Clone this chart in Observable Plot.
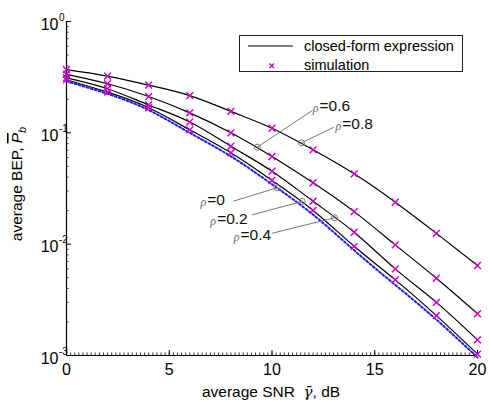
<!DOCTYPE html>
<html>
<head>
<meta charset="utf-8">
<script src="https://cdn.jsdelivr.net/npm/d3@7"></script>
<script src="https://cdn.jsdelivr.net/npm/@observablehq/plot@0.6"></script>
<style>
  html, body { margin: 0; padding: 0; background: #fff; }
  #chart { width: 489px; height: 403px; }
  svg { font-family: "Liberation Sans", Arial, sans-serif; }
</style>
</head>
<body>
<div id="chart"></div>
<script>
// ---- data ----
const snr = [0, 2, 4, 6, 8, 10, 12, 14, 16, 18, 20];
const rhoValues = [0, 0.2, 0.4, 0.6, 0.8];
const berRho00 = [0.290, 0.224, 0.160, 0.100, 0.0615, 0.0345, 0.0184, 0.0088, 0.0043, 0.0021, 0.00096];
const berRho02 = [0.300, 0.232, 0.168, 0.1064, 0.0661, 0.0373, 0.0201, 0.00957, 0.00478, 0.00228, 0.00103];
const berRho04 = [0.312, 0.249, 0.178, 0.125, 0.0758, 0.0452, 0.0243, 0.0128, 0.0060, 0.0030, 0.00138];
const berRho06 = [0.335, 0.276, 0.212, 0.151, 0.100, 0.0613, 0.0356, 0.0196, 0.00986, 0.00494, 0.00237];
const berRho08 = [0.370, 0.323, 0.268, 0.216, 0.156, 0.110, 0.0704, 0.0428, 0.0238, 0.0125, 0.00643];

// annotation anchors (data coordinates)
const annRho      = ["0", "0.2", "0.4", "0.6", "0.8"];
const annCircSnr  = [10.25, 11.47, 13.04, 9.28, 11.44];
const annCircBer  = [0.0321, 0.0242, 0.01725, 0.0743, 0.0813];
const annLineSnr  = [8.11, 9.04, 10.01, 11.96, 13.01];
const annLineBer  = [0.0243, 0.01835, 0.01254, 0.1587, 0.1123];
const annTextSnr  = [6.85, 7.33, 8.47, 12.31, 13.42];
const annTextBer  = [0.0247, 0.0169, 0.01197, 0.1723, 0.1205];

// ticks
const xMajor = [0, 5, 10, 15, 20];
const xMinor = d3.range(0, 20.001, 0.2);
const yMajor = [1, 0.1, 0.01, 0.001];
const yExp = ["0", "-1", "-2", "-3"];
const yMinor = [];
for (const k of [-3, -2, -1]) for (let m = 2; m <= 9; m++) yMinor.push(m * Math.pow(10, k));

// ---- build tables ----
const series = [berRho00, berRho02, berRho04, berRho06, berRho08];
const rows = [];
series.forEach((arr, i) => arr.forEach((v, j) => rows.push({rho: rhoValues[i], snr: snr[j], ber: v})));
const blackRows = rows.filter(d => d.rho > 0);
const blueRows = rows.filter(d => d.rho === 0);
const ann = annRho.map((r, i) => ({
  rho: r, cx: annCircSnr[i], cy: annCircBer[i], lx: annLineSnr[i], ly: annLineBer[i], tx: annTextSnr[i], ty: annTextBer[i]
}));
const yTickRows = yMajor.map((v, i) => ({v, e: yExp[i]}));

const W = 489, H = 403;
const mL = 66, mR = 12, mT = 21, mB = 48;
const plotW = W - mL - mR, plotH = H - mT - mB;

const chart = Plot.plot({
  width: W, height: H,
  marginLeft: mL, marginRight: mR, marginTop: mT, marginBottom: mB,
  style: {fontFamily: "Liberation Sans, Arial, sans-serif", background: "#fff", overflow: "visible"},
  x: {domain: [0, 20], axis: null},
  y: {type: "log", domain: [1e-3, 1], axis: null},
  marks: [
    // axes lines
    Plot.ruleX([0], {stroke: "#000", strokeWidth: 1.2}),
    Plot.ruleY([1e-3], {stroke: "#000", strokeWidth: 1.2}),
    // inside ticks
    Plot.tickX(xMajor, {x: d => d, stroke: "#000", insetTop: plotH - 5}),
    Plot.tickX(xMinor, {x: d => d, stroke: "#000", strokeWidth: 0.8, insetTop: plotH - 2.5}),
    Plot.tickY(yMajor, {y: d => d, stroke: "#000", insetRight: plotW - 5}),
    Plot.tickY(yMinor, {y: d => d, stroke: "#000", strokeWidth: 0.8, insetRight: plotW - 2.5}),
    // tick labels
    Plot.text(xMajor, {x: d => d, y: 1e-3, text: d => String(d), dy: 14, fontSize: 16, fill: "#000"}),
    Plot.text(yTickRows, {x: 0, y: "v", text: () => "10", dx: -8, dy: 3, textAnchor: "end", fontSize: 16, fill: "#000"}),
    Plot.text(yTickRows, {x: 0, y: "v", text: "e", dx: -7.5, dy: -4, textAnchor: "start", fontSize: 10, fill: "#000"}),
    // curves
    Plot.line(blueRows, {x: "snr", y: "ber", stroke: "#1a1aff", strokeWidth: 2, strokeDasharray: "2,2.2", curve: "natural"}),
    Plot.line(blackRows, {x: "snr", y: "ber", z: "rho", stroke: "#000", strokeWidth: 1.2, curve: "natural"}),
    Plot.dot(blackRows, {x: "snr", y: "ber", symbol: "times", stroke: "#c800c8", strokeWidth: 1.4, r: 3.2}),
    // annotations
    Plot.link(ann, {x1: "lx", y1: "ly", x2: "cx", y2: "cy", stroke: "#777", strokeWidth: 1}),
    Plot.dot(ann, {x: "cx", y: "cy", r: 3, stroke: "#777", fill: "none", strokeWidth: 1}),
    Plot.text(ann, {x: "tx", y: "ty", text: () => "\u03C1", textAnchor: "end", dx: -1, dy: 2, fontSize: 12, fontStyle: "italic", fontFamily: "Liberation Serif, serif", fill: "#666"}),
    Plot.text(ann, {x: "tx", y: "ty", text: d => "=" + d.rho, textAnchor: "start", fontSize: 15.5, fill: "#111"})
  ]
});

const svg = d3.select(chart);

// axis titles with overbar / subscript
const yl = svg.append("text")
  .attr("transform", "translate(22,184) rotate(-90)")
  .attr("text-anchor", "middle")
  .attr("font-size", 15.5)
  .attr("fill", "#000");
yl.append("tspan").text("average BEP, ");
yl.append("tspan").attr("font-style", "italic").style("text-decoration", "overline").text("P");
yl.append("tspan").attr("font-style", "italic").attr("font-size", 11).attr("dy", 4).text("b");

const xl = svg.append("text")
  .attr("x", 271).attr("y", 397)
  .attr("text-anchor", "middle")
  .attr("font-size", 15.5)
  .attr("fill", "#000");
xl.append("tspan").text("average SNR  ");
xl.append("tspan").attr("font-style", "italic").attr("font-family", "DejaVu Serif, serif").attr("font-size", 15).text("\u03B3\u0304");
xl.append("tspan").text(", dB");

// legend
const lg = svg.append("g").attr("text-anchor", "start");
lg.append("rect").attr("x", 239.5).attr("y", 35.5).attr("width", 223).attr("height", 36)
  .attr("fill", "#fff").attr("stroke", "#222").attr("stroke-width", 1);
lg.append("line").attr("x1", 248).attr("x2", 293).attr("y1", 46).attr("y2", 46).attr("stroke", "#000").attr("stroke-width", 1.2);
lg.append("text").attr("x", 304).attr("y", 51).attr("text-anchor", "start").attr("font-size", 14.5).attr("fill", "#000").text("closed-form expression");
lg.append("path").attr("d", "M269.5,63.5L274,68M274,63.5L269.5,68").attr("stroke", "#c800c8").attr("stroke-width", 1.3);
lg.append("text").attr("x", 304).attr("y", 70).attr("text-anchor", "start").attr("font-size", 14.5).attr("fill", "#000").text("simulation");

document.getElementById("chart").appendChild(chart);
</script>
</body>
</html>
